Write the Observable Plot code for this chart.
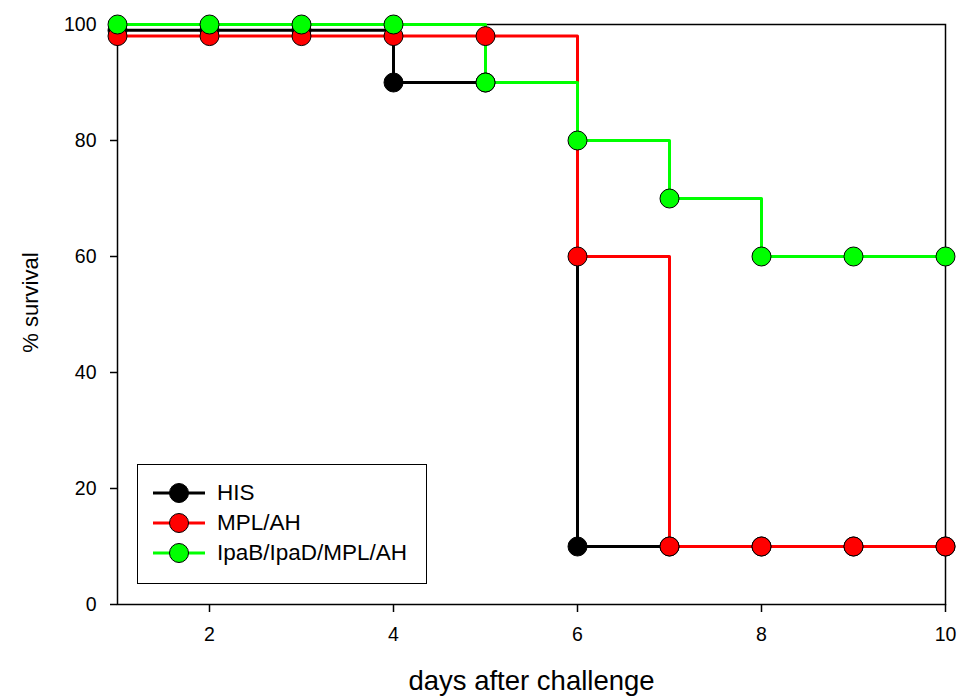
<!DOCTYPE html>
<html>
<head>
<meta charset="utf-8">
<script src="https://cdn.jsdelivr.net/npm/d3@7"></script>
<script src="https://cdn.jsdelivr.net/npm/@observablehq/plot@0.6"></script>
<style>
  html, body { margin: 0; padding: 0; background: #fff; }
  #wrap { position: relative; width: 961px; height: 700px; font-family: "Liberation Sans", Arial, sans-serif; }
  #legend { position: absolute; left: 137px; top: 464px; width: 290px; height: 120px; border: 1.5px solid #000; background: #fff; box-sizing: border-box; }
  .row { position: absolute; left: 15px; height: 30px; display: flex; align-items: center; font-size: 22.5px; color: #000; }
  .row svg { margin-right: 12px; }
</style>
</head>
<body>
<div id="wrap"></div>
<script>
const days = [1, 2, 3, 4, 5, 6, 7, 8, 9, 10];
const seriesNames = ["HIS", "MPL/AH", "IpaB/IpaD/MPL/AH"];
const seriesColors = ["#000000", "#ff0000", "#00ff00"];
const hisValues = [99, 99, 99, 90, 90, 10, 10, 10, 10, 10];
const mplValues = [98, 98, 98, 98, 98, 60, 10, 10, 10, 10];
const ipaValues = [100, 100, 100, 100, 90, 80, 70, 60, 60, 60];
const xTicks = [2, 4, 6, 8, 10];
const yTicks = [0, 20, 40, 60, 80, 100];
const xLabel = "days after challenge";
const yLabel = "% survival";

const allValues = [hisValues, mplValues, ipaValues];
const rows = [];
allValues.forEach((vals, si) => {
  vals.forEach((v, i) => rows.push({series: seriesNames[si], day: days[i], value: v}));
});

const plot = Plot.plot({
  width: 961,
  height: 700,
  marginLeft: 117,
  marginRight: 16,
  marginTop: 24,
  marginBottom: 96,
  style: {fontFamily: "'Liberation Sans', Arial, sans-serif", background: "#fff"},
  x: {domain: [1, 10]},
  y: {domain: [0, 100]},
  color: {domain: seriesNames, range: seriesColors},
  marks: [
    Plot.axisX({ticks: xTicks, tickSize: 8, tickPadding: 15, fontSize: 19.5, label: null, stroke: "#000", strokeWidth: 1.5, color: "#000"}),
    Plot.axisY({ticks: yTicks, tickSize: 7, tickPadding: 14, fontSize: 19.5, label: null, stroke: "#000", strokeWidth: 1.5, color: "#000"}),
    Plot.frame({stroke: "#000", strokeWidth: 1.5}),
    Plot.line(rows, {x: "day", y: "value", z: "series", stroke: "series", strokeWidth: 3, curve: "step-after"}),
    Plot.dot(rows, {x: "day", y: "value", fill: "series", stroke: "#000", strokeWidth: 1, r: 9.5}),
    Plot.text([xLabel], {frameAnchor: "bottom", textAnchor: "middle", dy: 85, text: d => d, fontSize: 27.5, fill: "#000"}),
    Plot.text([yLabel], {frameAnchor: "left", textAnchor: "middle", dx: -87, dy: -12, rotate: -90, text: d => d, fontSize: 22, fill: "#000"})
  ]
});

const wrap = document.getElementById("wrap");
wrap.appendChild(plot);

const legend = document.createElement("div");
legend.id = "legend";
seriesNames.forEach((name, i) => {
  const row = document.createElement("div");
  row.className = "row";
  row.style.top = (13 + i * 30) + "px";
  row.innerHTML = `<svg width="52" height="22"><line x1="0" x2="52" y1="11" y2="11" stroke="${seriesColors[i]}" stroke-width="3"/><circle cx="26" cy="11" r="9.5" fill="${seriesColors[i]}" stroke="#000" stroke-width="1"/></svg><span>${name}</span>`;
  legend.appendChild(row);
});
wrap.appendChild(legend);
</script>
</body>
</html>
